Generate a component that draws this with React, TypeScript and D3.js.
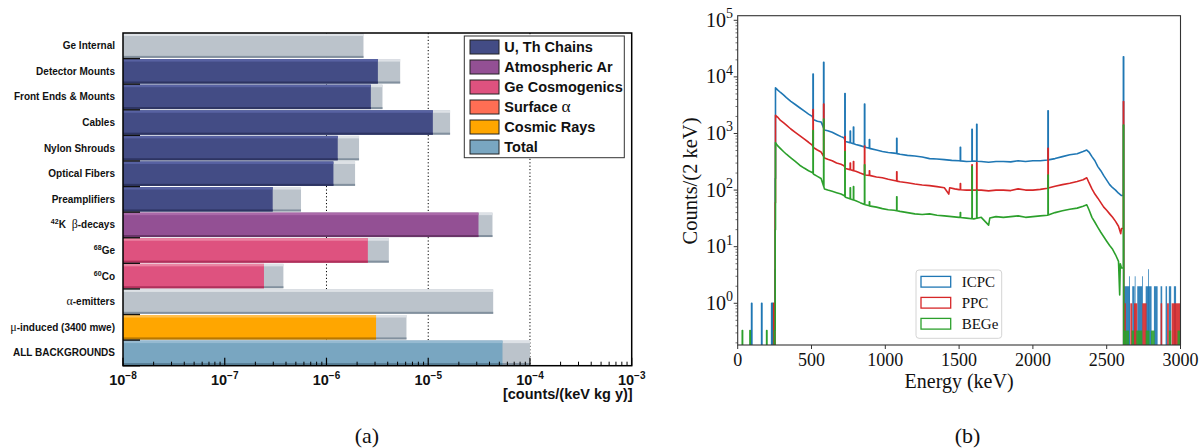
import React from 'react'
import * as d3 from 'd3'

// ---------- panel (a): background budget ----------
const categories = ['Ge Internal', 'Detector Mounts', 'Front Ends & Mounts', 'Cables', 'Nylon Shrouds',
  'Optical Fibers', 'Preamplifiers', '42K β-decays', '68Ge', '60Co', 'α-emitters',
  'μ-induced (3400 mwe)', 'ALL BACKGROUNDS']
const groups = ['none', 'uth', 'uth', 'uth', 'uth', 'uth', 'uth', 'ar', 'cosmo', 'cosmo', 'none', 'cosmic', 'total']
const bestValues = [0, 3.2e-6, 2.73e-6, 1.11e-5, 1.29e-6, 1.17e-6, 2.96e-7, 3.12e-5, 2.55e-6, 2.43e-7, 0, 3.07e-6, 5.37e-5]
const limitValues = [2.31e-6, 5.3e-6, 3.55e-6, 1.64e-5, 2.09e-6, 1.91e-6, 5.62e-7, 4.28e-5, 4.1e-6, 3.77e-7, 4.35e-5, 6.11e-6, 1.0e-4]
const legendKeys = ['uth', 'ar', 'cosmo', 'alpha', 'cosmic', 'total']
const legendLabels = ['U, Th Chains', 'Atmospheric Ar', 'Ge Cosmogenics', 'Surface α', 'Cosmic Rays', 'Total']
const decadesA = [1e-8, 1e-7, 1e-6, 1e-5, 1e-4, 1e-3]
const gridA = [1e-6, 1e-5, 1e-4]

// [top stripe, body, bottom stripe]
const palette: Record<string, string[]> = {
  uth: ['#5862a2', '#434c85', '#2d3462'],
  ar: ['#aa69a9', '#935094', '#693568'],
  cosmo: ['#ea84a3', '#de527f', '#b0305b'],
  alpha: ['#ff8f7b', '#ff6e54', '#c4503c'],
  cosmic: ['#ffbf4d', '#ffa600', '#b97800'],
  total: ['#96bad1', '#79a6c1', '#587f97'],
  none: ['#dde1e6', '#bbc3cb', '#82909e'],
}

// ---------- panel (b): energy spectra ----------
const seriesNames = ['ICPC', 'PPC', 'BEGe']
const seriesColors = ['#1f77b4', '#d62728', '#2ca02c']

const peakEnergies = [511, 583, 727, 763, 785, 860, 893, 1078, 1509, 1588, 1620, 2103, 2614]
const icpcPeaks = [11200, 18100, 5100, 1100, 1300, 3300, 780, 820, 570, 1190, 1450, 2520, 22700]
const ppcPeaks = [2650, 3300, 880, 300, 320, 600, 220, 210, 130, 280, 305, 550, 3650]
const begePeaks = [1130, 1800, 480, 110, 115, 280, 62, 76, 40, 260, 100, 185, 1410]

const icpcLow = [[94, 1], [162, 1], [230, 1], [236, 1]]
const ppcLow = [[244, 1]]
const begeLow = [[31, 0.33], [83, 0.33], [196, 0.33], [248, 0.33]]

const icpcEdge = [[252, 4], [254, 160]]
const ppcEdge = [[252, 1], [254, 60]]
const begeEdge = [[252, 0.33], [254, 20]]

const icpcCont = [[256, 6400], [270, 5900], [290, 5300], [310, 4800], [330, 4300], [360, 3700], [390, 3250],
  [420, 2850], [450, 2500], [480, 2200], [505, 2000], [515, 1750], [540, 1650], [565, 1600], [588, 1150],
  [610, 1120], [640, 1050], [670, 960], [700, 880], [720, 840], [730, 720], [760, 690], [800, 640], [830, 610],
  [865, 570], [900, 540], [940, 510], [980, 480], [1020, 460], [1060, 450], [1100, 430], [1150, 410],
  [1200, 400], [1250, 385], [1300, 360], [1350, 355], [1400, 345], [1450, 335], [1500, 330], [1550, 320],
  [1600, 325], [1650, 320], [1700, 310], [1750, 320], [1800, 320], [1850, 315], [1900, 330], [1950, 320],
  [2000, 330], [2050, 330], [2100, 340], [2150, 360], [2200, 390], [2250, 420], [2300, 440], [2340, 480],
  [2365, 510], [2380, 470], [2400, 390], [2420, 330], [2440, 260], [2460, 220], [2480, 180], [2500, 150],
  [2520, 125], [2540, 110], [2560, 100], [2580, 88], [2600, 80]]

const ppcCont = [[256, 2100], [270, 1950], [290, 1700], [310, 1550], [330, 1400], [360, 1200], [390, 1050],
  [420, 920], [450, 800], [480, 700], [505, 620], [515, 560], [540, 510], [565, 470], [588, 370], [610, 350],
  [640, 330], [670, 300], [700, 285], [720, 270], [730, 240], [760, 230], [800, 215], [830, 200], [865, 185],
  [900, 180], [940, 170], [980, 165], [1020, 155], [1060, 148], [1100, 140], [1150, 135], [1200, 128],
  [1250, 123], [1300, 120], [1350, 115], [1400, 110], [1430, 85], [1436, 110], [1470, 105], [1500, 102],
  [1550, 100], [1600, 100], [1650, 100], [1700, 97], [1750, 100], [1800, 100], [1850, 98], [1900, 105],
  [1950, 100], [2000, 100], [2050, 103], [2100, 108], [2150, 117], [2200, 125], [2250, 132], [2300, 142],
  [2340, 152], [2365, 165], [2380, 135], [2400, 105], [2420, 85], [2440, 72], [2460, 60], [2480, 50],
  [2500, 44], [2520, 38], [2540, 33], [2560, 28], [2580, 23], [2595, 17], [2600, 21]]

const begeCont = [[256, 690], [270, 610], [290, 540], [310, 480], [330, 430], [360, 370], [390, 320],
  [420, 275], [450, 245], [480, 220], [505, 205], [515, 190], [540, 175], [565, 160], [588, 105], [610, 100],
  [640, 95], [670, 90], [700, 85], [720, 80], [730, 75], [760, 70], [800, 65], [830, 60], [865, 55], [900, 52],
  [940, 50], [980, 47], [1020, 45], [1060, 44], [1100, 42], [1150, 40], [1200, 38], [1250, 37], [1300, 38],
  [1350, 36], [1400, 35], [1450, 34], [1500, 33], [1550, 32], [1600, 31], [1650, 33], [1700, 24], [1708, 32],
  [1750, 34], [1800, 33], [1850, 34], [1900, 35], [1950, 33], [2000, 34], [2050, 35], [2100, 36], [2150, 40],
  [2200, 43], [2250, 46], [2300, 48], [2340, 52], [2365, 55], [2380, 45], [2400, 33], [2420, 27], [2440, 22],
  [2460, 18], [2480, 15], [2500, 12.5], [2520, 10.5], [2540, 9], [2560, 7.2], [2580, 5.5], [2588, 1.4],
  [2592, 5], [2600, 4.2]]

// sparse counts above the 2614 keV line: [from, to, counts]
const icpcTail = [[2617, 2657, 2], [2673, 2689, 2], [2707, 2741, 2], [2764, 2804, 2], [2820, 2845, 2],
  [2865, 2876, 2], [2899, 2909, 2], [2921, 2937, 2], [2955, 2970, 2], [2651, 2653, 3], [2690, 2692, 3],
  [2740, 2742, 3], [2780, 2782, 4]]
const ppcTail = [[2612, 2630, 1], [2660, 2673, 1], [2685, 2707, 1], [2741, 2770, 1], [2865, 2876, 1],
  [2909, 2921, 1], [2940, 2998, 1]]
const begeTail = [[2617, 2651, 0.33], [2668, 2685, 0.33], [2700, 2741, 0.33], [2764, 2790, 0.33],
  [2800, 2825, 0.33], [2921, 2937, 0.33], [2980, 2998, 0.33]]

const xTicksB = [0, 500, 1000, 1500, 2000, 2500, 3000]
const yExpB = [0, 1, 2, 3, 4, 5]

// height of the drawn continuum at energy e (straight on the log axis between read knots)
function contAt(cont: number[][], e: number) {
  if (e <= cont[0][0]) return cont[0][1]
  for (let i = 1; i < cont.length; i++) {
    const [e0, v0] = cont[i - 1], [e1, v1] = cont[i]
    if (e <= e1) {
      const t = (e - e0) / (e1 - e0)
      return Math.exp(Math.log(v0) + t * (Math.log(v1) - Math.log(v0)))
    }
  }
  return cont[cont.length - 1][1]
}

function buildPoints(low: number[][], edge: number[][], cont: number[][], peaks: number[]) {
  const pts: number[][] = [[0, 0]]
  low.forEach(([e, v]) => { pts.push([e, 0], [e, v], [e + 2, v], [e + 2, 0]) })
  let prev = 0
  edge.forEach(([e, v]) => { pts.push([e, prev], [e, v]); prev = v })
  pts.push([cont[0][0], prev])
  const lastE = cont[cont.length - 1][0]
  const inner = peakEnergies.map((e, i) => [e, peaks[i]]).filter(p => p[0] < lastE)
  const outer = peakEnergies.map((e, i) => [e, peaks[i]]).filter(p => p[0] >= lastE)
  const knots = [...cont.map(p => ({ e: p[0], p: null as any, k: p })), ...inner.map(p => ({ e: p[0] - 1, p, k: null as any }))]
    .sort((a, b) => a.e - b.e)
  knots.forEach(n => {
    if (n.k) pts.push(n.k)
    else {
      const [e, h] = n.p
      pts.push([e - 1, contAt(cont, e - 1)], [e - 1, h], [e + 1, h], [e + 1, contAt(cont, e + 1)])
    }
  })
  let last = cont[cont.length - 1][1]
  outer.forEach(([e, h]) => { pts.push([e - 1, last], [e - 1, h], [e + 1, h], [e + 1, 0]); last = 0 })
  pts.push([3000, 0])
  return pts
}

function RichText({ text, size, ...rest }: any) {
  const parts: { t: string, sup?: boolean, greek?: boolean }[] = []
  let body = text
  const m = text.match(/^(\d+)(.*)$/)
  if (m) { parts.push({ t: m[1], sup: true }); body = m[2] }
  body.split(/([αβμ])/).forEach((s: string) => { if (s) parts.push({ t: s, greek: /[αβμ]/.test(s) }) })
  return (
    <text {...rest} fontSize={size} style={{ whiteSpace: 'pre' }}>
      {parts.map((p, i) => (
        <tspan key={i}
          fontSize={p.sup ? size * 0.7 : p.greek ? size * 1.2 : size}
          dy={p.sup ? -size * 0.4 : (i > 0 && parts[i - 1].sup) ? size * 0.4 : 0}
          fontFamily={p.greek ? 'Liberation Serif' : undefined}
          fontWeight={p.greek ? 'normal' : undefined}>
          {p.greek && i > 0 && text.startsWith('42') ? ' ' + p.t : p.t}
        </tspan>
      ))}
    </text>
  )
}

function Bar({ x0, x1, y, h, colors }: any) {
  const w = Math.max(0, x1 - x0)
  return (
    <g>
      <rect x={x0} y={y} width={w} height={h} fill={colors[1]} />
      <rect x={x0} y={y} width={w} height={2.5} fill={colors[0]} />
      <rect x={x0} y={y + h - 2} width={w} height={2} fill={colors[2]} />
    </g>
  )
}

export default function App() {
  // panel (a)
  const aLeft = 123, aRight = 631.7, aTop = 33, aBottom = 365.7
  const xA = d3.scaleLog().domain([1e-8, 1e-3]).range([aLeft, aRight])
  const yA = d3.scaleBand().domain(categories).range([aTop, aBottom]).padding(0)
  const bw = yA.bandwidth()
  const minorA: number[] = []
  for (let d = -8; d < -3; d++) for (let m = 2; m < 10; m++) minorA.push(m * Math.pow(10, d))

  // panel (b)
  const bLeft = 737.7, bRight = 1180.5, bTop = 15.7, bBottom = 345
  const xB = d3.scaleLinear().domain([0, 3000]).range([bLeft, bRight])
  const yB = d3.scaleLog().domain([Math.pow(10, -0.737), Math.pow(10, 5.081)]).range([bBottom, bTop])
  const yv = (v: number) => (v > 0 ? yB(v) : bBottom + 20)
  const line = d3.line<number[]>().x(d => xB(d[0])).y(d => yv(d[1]))
  const spectra = [
    buildPoints(icpcLow, icpcEdge, icpcCont, icpcPeaks),
    buildPoints(ppcLow, ppcEdge, ppcCont, ppcPeaks),
    buildPoints(begeLow, begeEdge, begeCont, begePeaks),
  ]
  const tails = [icpcTail, ppcTail, begeTail]
  const [y0, y1] = yB.domain()
  const minorB: number[] = []
  for (let d = -1; d < 5; d++) for (let m = 2; m < 10; m++) {
    const v = m * Math.pow(10, d)
    if (v >= y0 && v <= y1) minorB.push(v)
  }

  const sans = 'Liberation Sans, Arial, Helvetica, sans-serif'
  const serif = 'Liberation Serif, Times New Roman, serif'

  return (
    <svg width={1203} height={448} style={{ position: 'absolute', left: 0, top: 0, background: '#fff' }}>
      {/* ---------------- panel (a) ---------------- */}
      <g fontFamily={sans} fontWeight="bold">
        {gridA.map(v => (
          <line key={v} x1={xA(v)} x2={xA(v)} y1={aTop} y2={aBottom} stroke="#000" strokeWidth={1} strokeDasharray="1.2,2.2" />
        ))}
        {categories.map((c, i) => {
          const y = (yA(c) as number) + 0.5
          const h = bw - 1.2
          return (
            <g key={c}>
              <Bar x0={aLeft} x1={xA(limitValues[i])} y={y} h={h} colors={palette.none} />
              {bestValues[i] > 0 && <Bar x0={aLeft} x1={xA(bestValues[i])} y={y} h={h} colors={palette[groups[i]]} />}
              <RichText text={c} size={10} x={115} y={(yA(c) as number) + bw / 2 + 3.5} textAnchor="end" fill="#111" />
            </g>
          )
        })}
        {categories.map((c, i) => i > 0 && (
          <line key={'t' + c} x1={aLeft} x2={aLeft + 17} y1={yA(c) as number} y2={yA(c) as number} stroke="#111" strokeWidth={1.4} />
        ))}
        <line x1={aLeft} x2={aLeft + 17} y1={aBottom} y2={aBottom} stroke="#111" strokeWidth={1.4} />
        <rect x={aLeft} y={aTop} width={aRight - aLeft} height={aBottom - aTop} fill="none" stroke="#000" strokeWidth={1.5} />
        {minorA.map(v => (
          <line key={v} x1={xA(v)} x2={xA(v)} y1={aBottom} y2={aBottom - 4} stroke="#000" strokeWidth={1} />
        ))}
        {decadesA.map(v => (
          <g key={v}>
            <line x1={xA(v)} x2={xA(v)} y1={aBottom} y2={aBottom - 8} stroke="#000" strokeWidth={1.2} />
            <text x={xA(v)} y={385} textAnchor="middle" fontSize={14.5} fill="#111">
              10<tspan fontSize={10} dy={-6}>{'\u2212' + (-Math.round(Math.log10(v)))}</tspan>
            </text>
          </g>
        ))}
        <text x={aRight + 1} y={399} textAnchor="end" fontSize={14.5} fill="#111">[counts/(keV kg y)]</text>
        {/* legend */}
        <rect x={464.3} y={36} width={160} height={121.7} fill="#fff" stroke="#333" strokeWidth={1} />
        {legendKeys.map((k, i) => (
          <g key={k}>
            <rect x={470} y={40 + i * 20} width={29} height={14} fill={palette[k][1]} stroke="#222" strokeWidth={1} />
            <RichText text={legendLabels[i]} size={14.5} x={504.3} y={40 + i * 20 + 11.8} fill="#111" />
          </g>
        ))}
      </g>
      <text x={367} y={443} textAnchor="middle" fontFamily={serif} fontSize={22} fill="#111">(a)</text>

      {/* ---------------- panel (b) ---------------- */}
      <defs>
        <clipPath id="clipB">
          <rect x={bLeft} y={bTop} width={bRight - bLeft} height={bBottom - bTop} />
        </clipPath>
      </defs>
      <g clipPath="url(#clipB)">
        {spectra.map((s, i) => (
          <g key={seriesNames[i]}>
            <path d={line(s as any) || ''} fill="none" stroke={seriesColors[i]} strokeWidth={1.6} strokeLinejoin="round" />
            {tails[i].map((r, j) => (
              <rect key={j} x={xB(r[0])} width={Math.max(0.8, xB(r[1]) - xB(r[0]))} y={yB(r[2])}
                height={bBottom - yB(r[2])} fill={seriesColors[i]} opacity={0.9} />
            ))}
          </g>
        ))}
      </g>
      <rect x={bLeft} y={bTop} width={bRight - bLeft} height={bBottom - bTop} fill="none" stroke="#333" strokeWidth={1.1} />
      <g fontFamily={serif} fill="#111">
        {xTicksB.map(t => (
          <g key={t}>
            <line x1={xB(t)} x2={xB(t)} y1={bBottom} y2={bBottom + 4} stroke="#333" strokeWidth={1} />
            <text x={xB(t)} y={366} textAnchor="middle" fontSize={18}>{t}</text>
          </g>
        ))}
        {minorB.map(v => (
          <line key={v} x1={bLeft} x2={bLeft - 2.2} y1={yB(v)} y2={yB(v)} stroke="#333" strokeWidth={0.7} />
        ))}
        {yExpB.map(e => (
          <g key={e}>
            <line x1={bLeft} x2={bLeft - 4} y1={yB(Math.pow(10, e))} y2={yB(Math.pow(10, e))} stroke="#333" strokeWidth={1} />
            <text x={733} y={yB(Math.pow(10, e)) + 6.5} textAnchor="end" fontSize={20}>
              10<tspan fontSize={14} dy={-8.5}>{e}</tspan>
            </text>
          </g>
        ))}
        <text x={(bLeft + bRight) / 2} y={388} textAnchor="middle" fontSize={20}>Energy (keV)</text>
        <text transform="translate(697,181) rotate(-90)" textAnchor="middle" fontSize={20.5}>Counts/(2 keV)</text>
        {/* legend */}
        <rect x={916} y={270} width={85.7} height={68.3} rx={3} fill="#fff" fillOpacity={0.85} stroke="#d4d4d4" strokeWidth={1} />
        {seriesNames.map((n, i) => (
          <g key={n}>
            <rect x={921} y={276.4 + i * 21} width={29.7} height={10.7} fill="none" stroke={seriesColors[i]} strokeWidth={1.3} />
            <text x={961.7} y={287 + i * 21} fontSize={15}>{n}</text>
          </g>
        ))}
        <text x={967.5} y={443} textAnchor="middle" fontSize={22}>(b)</text>
      </g>
    </svg>
  )
}
